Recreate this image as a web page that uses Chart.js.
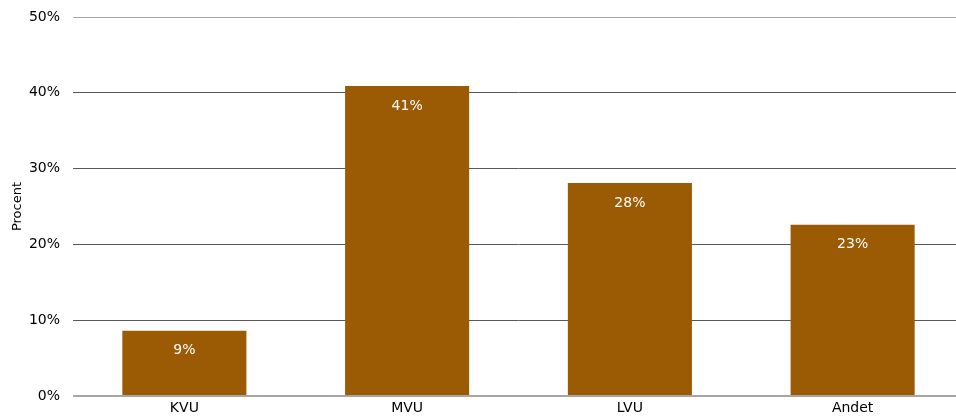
<!DOCTYPE html>
<html lang="da">
<head>
<meta charset="UTF-8">
<title>Procent</title>
<style>
    html, body { margin: 0; padding: 0; background: #fff; overflow: hidden; }
    .wrap { width: 956px; height: 418px; overflow: hidden; }
    .box { width: 964px; height: 418px; }
</style>
</head>
<body>
<div class="wrap"><div class="box"><canvas id="chart"></canvas></div></div>

<script src="https://cdn.jsdelivr.net/npm/chart.js"></script>
<script>
    const categories = ['KVU', 'MVU', 'LVU', 'Andet'];
    const values = [8.6, 40.9, 28.1, 22.6];
    const valueLabels = ['9%', '41%', '28%', '23%'];

    // labels inside the bars, near the top
    const barText = {
        id: 'barText',
        afterDatasetsDraw(chart) {
            const ctx = chart.ctx;
            ctx.save();
            ctx.fillStyle = '#ffffff';
            ctx.font = '14px "DejaVu Sans", Verdana, sans-serif';
            ctx.textAlign = 'center';
            ctx.textBaseline = 'middle';
            chart.getDatasetMeta(0).data.forEach((bar, i) => {
                ctx.fillText(valueLabels[i], bar.x, bar.y + 20);
            });
            ctx.restore();
        }
    };

    Chart.defaults.font.family = '"DejaVu Sans", Verdana, sans-serif';
    Chart.defaults.font.size = 14;
    Chart.defaults.color = '#000';

    new Chart(document.getElementById('chart'), {
        type: 'bar',
        data: {
            labels: categories,
            datasets: [{
                data: values,
                backgroundColor: '#9b5a04',
                categoryPercentage: 1,
                barPercentage: 0.557
            }]
        },
        options: {
            responsive: true,
            maintainAspectRatio: false,
            animation: false,
            layout: { padding: { top: 17, left: 10, right: 0, bottom: 0 } },
            plugins: { legend: { display: false }, tooltip: { enabled: false } },
            scales: {
                x: {
                    afterFit: s => { s.height = 22; },
                    grid: { display: false, drawTicks: false },
                    border: { display: false },
                    ticks: { padding: 4 }
                },
                y: {
                    min: 0,
                    max: 50,
                    afterFit: s => { s.width = 63; s.paddingTop = 0; },
                    ticks: { stepSize: 10, padding: 13, callback: v => v + '%' },
                    grid: {
                        drawTicks: false,
                        color: c => (c.tick.value === 0 || c.tick.value === 50) ? '#a6a6a6' : '#595959',
                        lineWidth: c => c.tick.value === 0 ? 2 : 1
                    },
                    border: { display: false },
                    title: { display: true, text: 'Procent', font: { size: 13 }, padding: 0 }
                }
            }
        },
        plugins: [barText]
    });
</script>
</body>
</html>
